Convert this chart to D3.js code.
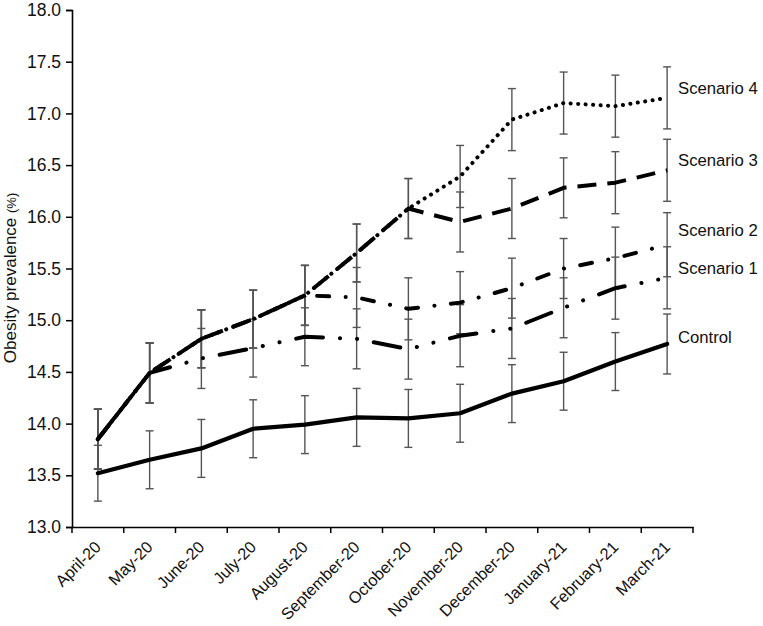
<!DOCTYPE html>
<html><head><meta charset="utf-8">
<script src="https://cdn.jsdelivr.net/npm/d3@7"></script>
<style>body{margin:0;background:#fff;}svg{display:block;font-family:"Liberation Sans",Arial,sans-serif;}</style>
</head><body><svg id="c" width="763" height="626"></svg>
<script>
const months = ["April-20","May-20","June-20","July-20","August-20","September-20","October-20","November-20","December-20","January-21","February-21","March-21"];
const yTicks = [13.0,13.5,14.0,14.5,15.0,15.5,16.0,16.5,17.0,17.5,18.0];
const control  = [13.52,13.65,13.76,13.95,13.99,14.06,14.05,14.10,14.29,14.41,14.60,14.77];
const controlErr = [0.27,0.28,0.28,0.28,0.28,0.28,0.28,0.28,0.28,0.28,0.28,0.29];
const scenario1 = [13.85,14.49,14.63,14.73,14.84,14.82,14.72,14.85,14.92,15.12,15.31,15.41];
const scenario1Err = [0.29,0.29,0.29,0.28,0.28,0.29,0.29,0.30,0.29,0.29,0.30,0.30];
const scenario2 = [13.85,14.49,14.82,15.01,15.24,15.22,15.11,15.17,15.31,15.50,15.60,15.73];
const scenario2Err = [0.29,0.29,0.28,0.28,0.29,0.29,0.30,0.30,0.29,0.29,0.30,0.31];
const scenario3 = [13.85,14.49,14.82,15.01,15.24,15.65,16.08,15.95,16.08,16.28,16.33,16.45];
const scenario3Err = [0.29,0.29,0.28,0.28,0.29,0.28,0.29,0.29,0.29,0.29,0.30,0.30];
const scenario4 = [13.85,14.49,14.82,15.01,15.24,15.65,16.08,16.39,16.94,17.10,17.07,17.15];
const scenario4Err = [0.29,0.29,0.28,0.28,0.29,0.28,0.29,0.30,0.30,0.30,0.30,0.30];
const seriesNames = ["Control","Scenario 1","Scenario 2","Scenario 3","Scenario 4"];

const series = [
  {name:seriesNames[0], values:control, err:controlErr, dash:null, cap:"round", w:4.2},
  {name:seriesNames[1], values:scenario1, err:scenario1Err, dash:"27,17,0.1,17,0.1,17", cap:"round", w:4},
  {name:seriesNames[2], values:scenario2, err:scenario2Err, dash:"12,16.5,0.1,16.5", cap:"round", w:4},
  {name:seriesNames[3], values:scenario3, err:scenario3Err, dash:"19,11", cap:"butt", w:4},
  {name:seriesNames[4], values:scenario4, err:scenario4Err, dash:"0.1,7.4", cap:"round", w:4}
];

const svg = d3.select("#c");
const x = d3.scaleBand().domain(months).range([72,693]);
const y = d3.scaleLinear().domain([13,18]).range([527,10]);

// axes
const yAxis = d3.axisLeft(y).tickValues(yTicks).tickFormat(d3.format(".1f")).tickSize(6).tickPadding(5);
const gy = svg.append("g").attr("transform","translate(72,0)").call(yAxis);
gy.select(".domain").attr("stroke","#000").attr("stroke-width",1.6);
gy.selectAll(".tick line").attr("stroke","#000").attr("stroke-width",1.5);
gy.selectAll(".tick text").attr("font-size",17.5).attr("fill","#111").attr("font-family","Liberation Sans, Arial, sans-serif");

const xAxis = d3.axisBottom(x).tickSize(0).tickFormat("");
const gx = svg.append("g").attr("transform","translate(0,527)").call(xAxis);
gx.select(".domain").attr("stroke","#000").attr("stroke-width",1.6);
// boundary ticks
const bounds = months.map(m=>x(m)).concat([x(months[months.length-1])+x.bandwidth()]);
svg.append("g").selectAll("line").data(bounds).join("line")
  .attr("x1",d=>d).attr("x2",d=>d).attr("y1",527).attr("y2",533)
  .attr("stroke","#000").attr("stroke-width",1.5);
// x labels
svg.append("g").selectAll("text").data(months).join("text")
  .attr("transform",d=>`translate(${x(d)+x.bandwidth()/2+4},${548}) rotate(-45)`)
  .attr("text-anchor","end").attr("font-size",16.3).attr("fill","#111")
  .text(d=>d);

// y title
const yt = svg.append("text").attr("transform","translate(16,278) rotate(-90)")
  .attr("text-anchor","middle").attr("fill","#111");
yt.append("tspan").attr("font-size",17).text("Obesity prevalence ");
yt.append("tspan").attr("font-size",13).text("(%)");

const cx = m => x(m) + x.bandwidth()/2;

// error bars
const eb = svg.append("g").attr("stroke","#555").attr("stroke-width",1.4).attr("fill","none");
series.forEach(s=>{
  months.forEach((m,i)=>{
    const lo = y(s.values[i]-s.err[i]), hi = y(s.values[i]+s.err[i]);
    eb.append("line").attr("x1",cx(m)).attr("x2",cx(m)).attr("y1",lo).attr("y2",hi);
    eb.append("line").attr("x1",cx(m)-4).attr("x2",cx(m)+4).attr("y1",lo).attr("y2",lo);
    eb.append("line").attr("x1",cx(m)-4).attr("x2",cx(m)+4).attr("y1",hi).attr("y2",hi);
  });
});

// lines
const line = d3.line().x((d,i)=>cx(months[i])).y(d=>y(d));
series.slice().reverse().forEach(s=>{
  svg.append("path").datum(s.values).attr("d",line)
    .attr("fill","none").attr("stroke","#000").attr("stroke-width",s.w)
    .attr("stroke-linecap",s.cap).attr("stroke-linejoin","round")
    .attr("stroke-dasharray",s.dash);
});

// labels (vertical placement in data units)
const labelY = {"Scenario 4":17.245,"Scenario 3":16.55,"Scenario 2":15.87,"Scenario 1":15.505,"Control":14.84};
series.forEach(s=>{
  svg.append("text").attr("x",678).attr("y",y(labelY[s.name])).attr("dy","0.35em")
    .attr("font-size",16.7).attr("fill","#111").text(s.name);
});
</script></body></html>
